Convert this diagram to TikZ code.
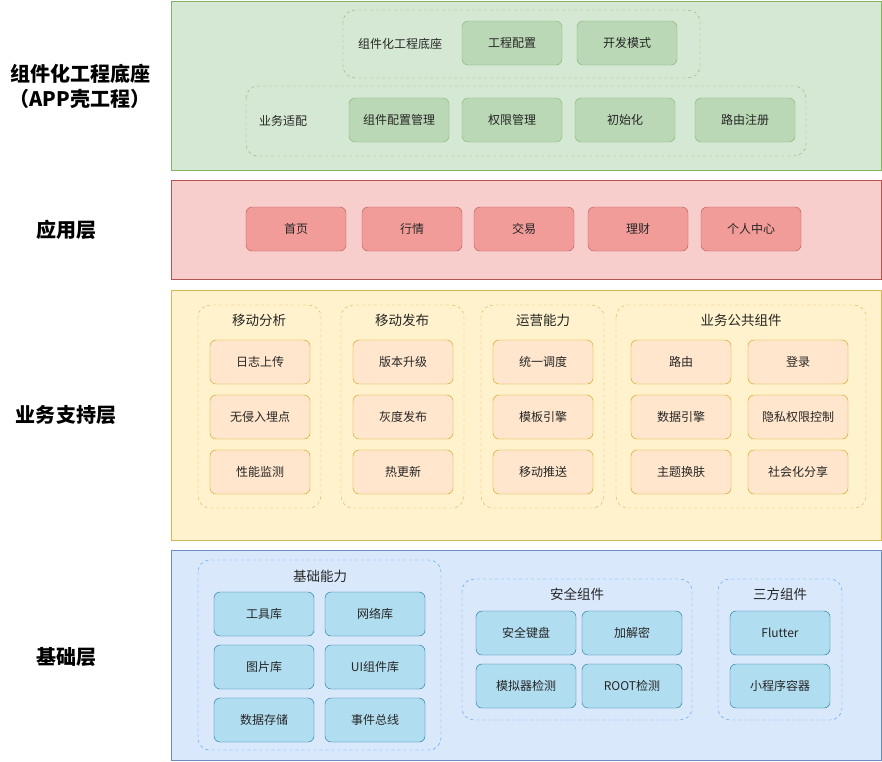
\documentclass[tikz,border=0pt]{standalone}
\usepackage{fontspec}
\setmainfont{Noto Sans CJK SC}
\begin{document}
\begin{tikzpicture}[x=1pt,y=-1pt,
 grp/.style={draw=#1,dashed,rounded corners=12pt},
 bx/.style={draw=#1,rounded corners=6pt},
 lbl/.style={font=\fontsize{12}{14}\selectfont,text=black!85},
 hd/.style={font=\fontsize{13.5}{16}\selectfont,text=black!85},
 ttl/.style={font=\fontsize{20}{25}\selectfont\bfseries,align=center}]
\definecolor{gF}{HTML}{D5E8D4}\definecolor{gS}{HTML}{82B366}\definecolor{gB}{HTML}{BAD8B5}
\definecolor{rF}{HTML}{F8CECC}\definecolor{rS}{HTML}{B85450}\definecolor{rB}{HTML}{F19C99}
\definecolor{yF}{HTML}{FFF2CC}\definecolor{yS}{HTML}{D6B656}\definecolor{oF}{HTML}{FFE6CC}\definecolor{oS}{HTML}{D79B00}
\definecolor{bF}{HTML}{DAE8FC}\definecolor{bS}{HTML}{6C8EBF}\definecolor{cF}{HTML}{B1DDF0}\definecolor{cS}{HTML}{10739E}\definecolor{dS}{HTML}{3399FF}
\useasboundingbox (0,0) rectangle (882,761);
\newcommand{\bbox}[6]{\filldraw[bx=#5,fill=#6] (#1,#2) rectangle ++(100,44); \node[lbl] (#4) at (#1+50,#2+22) {#3};}
% layer 1
\filldraw[draw=gS,fill=gF] (171,1) rectangle (881,170);
\node[ttl] (t1) at (80,86) {组件化工程底座\\（APP壳工程）};
\draw[grp=gS] (343,10) rectangle (700,78);
\node[lbl] (g1) at (400,44) {组件化工程底座};
\bbox{462}{21}{工程配置}{a1}{gS}{gB}
\bbox{577}{21}{开发模式}{a2}{gS}{gB}
\draw[grp=gS] (246,86) rectangle (806,156);
\node[lbl] (g2) at (283,121) {业务适配};
\bbox{349}{98}{组件配置管理}{a3}{gS}{gB}
\bbox{462}{98}{权限管理}{a4}{gS}{gB}
\bbox{575}{98}{初始化}{a5}{gS}{gB}
\bbox{695}{98}{路由注册}{a6}{gS}{gB}
% layer 2
\filldraw[draw=rS,fill=rF] (171,180) rectangle (881,279);
\node[ttl] (t2) at (66,230) {应用层};
\bbox{246}{207}{首页}{b1}{rS}{rB}
\bbox{362}{207}{行情}{b2}{rS}{rB}
\bbox{474}{207}{交易}{b3}{rS}{rB}
\bbox{588}{207}{理财}{b4}{rS}{rB}
\bbox{701}{207}{个人中心}{b5}{rS}{rB}
% layer 3
\filldraw[draw=yS,fill=yF] (171,290) rectangle (881,540);
\node[ttl] (t3) at (66,415) {业务支持层};
\draw[grp=yS!80!orange] (198,305) rectangle (321,508);
\draw[grp=yS!80!orange] (341,305) rectangle (464,508);
\draw[grp=yS!80!orange] (481,305) rectangle (604,508);
\draw[grp=yS!80!orange] (616,305) rectangle (866,508);
\node[hd] (h1) at (259,320) {移动分析};
\node[hd] (h2) at (402,320) {移动发布};
\node[hd] (h3) at (543,320) {运营能力};
\node[hd] (h4) at (741,320) {业务公共组件};
\bbox{210}{340}{日志上传}{c1}{oS}{oF}
\bbox{210}{395}{无侵入埋点}{c2}{oS}{oF}
\bbox{210}{450}{性能监测}{c3}{oS}{oF}
\bbox{353}{340}{版本升级}{c4}{oS}{oF}
\bbox{353}{395}{灰度发布}{c5}{oS}{oF}
\bbox{353}{450}{热更新}{c6}{oS}{oF}
\bbox{493}{340}{统一调度}{c7}{oS}{oF}
\bbox{493}{395}{模板引擎}{c8}{oS}{oF}
\bbox{493}{450}{移动推送}{c9}{oS}{oF}
\bbox{631}{340}{路由}{c10}{oS}{oF}
\bbox{631}{395}{数据引擎}{c11}{oS}{oF}
\bbox{631}{450}{主题换肤}{c12}{oS}{oF}
\bbox{748}{340}{登录}{c13}{oS}{oF}
\bbox{748}{395}{隐私权限控制}{c14}{oS}{oF}
\bbox{748}{450}{社会化分享}{c15}{oS}{oF}
% layer 4
\filldraw[draw=bS,fill=bF] (171,550) rectangle (881,760);
\node[ttl] (t4) at (66,657) {基础层};
\draw[grp=dS] (198,560) rectangle (441,750);
\draw[grp=dS] (462,579) rectangle (692,720);
\draw[grp=dS] (718,579) rectangle (842,720);
\node[hd] (k1) at (320,576) {基础能力};
\node[hd] (k2) at (577,594) {安全组件};
\node[hd] (k3) at (780,594) {三方组件};
\bbox{214}{592}{工具库}{d1}{cS}{cF}
\bbox{325}{592}{网络库}{d2}{cS}{cF}
\bbox{214}{645}{图片库}{d3}{cS}{cF}
\bbox{325}{645}{UI组件库}{d4}{cS}{cF}
\bbox{214}{698}{数据存储}{d5}{cS}{cF}
\bbox{325}{698}{事件总线}{d6}{cS}{cF}
\bbox{476}{611}{安全键盘}{d7}{cS}{cF}
\bbox{582}{611}{加解密}{d8}{cS}{cF}
\bbox{476}{664}{模拟器检测}{d9}{cS}{cF}
\bbox{582}{664}{ROOT检测}{d10}{cS}{cF}
\bbox{730}{611}{Flutter}{d11}{cS}{cF}
\bbox{730}{664}{小程序容器}{d12}{cS}{cF}
\end{tikzpicture}
\end{document}
